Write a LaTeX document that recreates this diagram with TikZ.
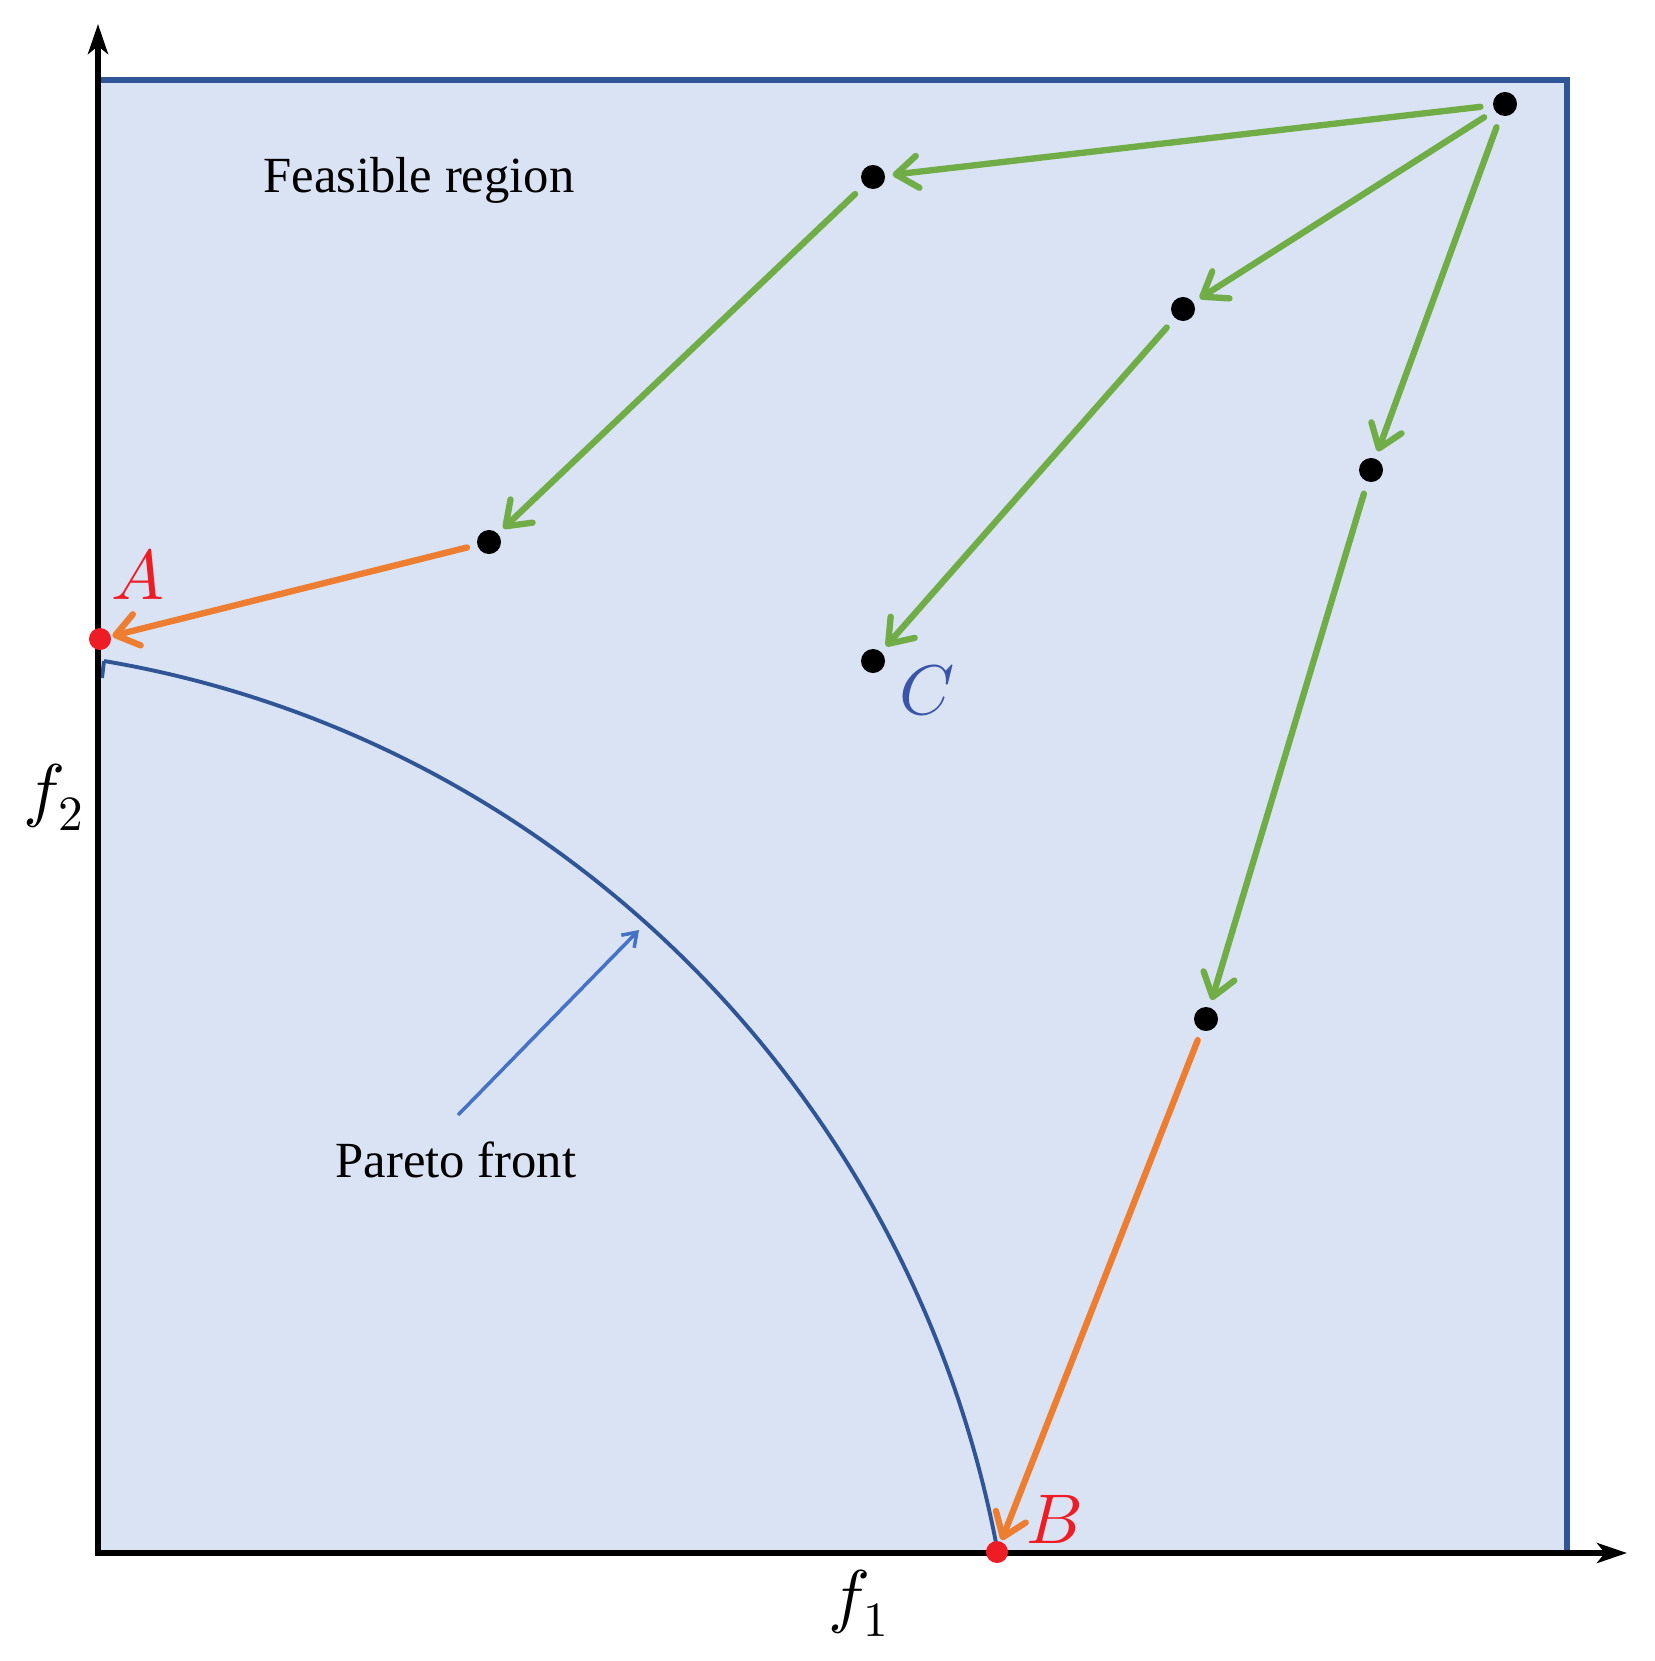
\documentclass[tikz,border=0pt]{standalone}
\usepackage{fontspec}
\setmainfont{Liberation Serif}
\usepackage{unicode-math}
\setmathfont{Latin Modern Math}
\usetikzlibrary{arrows.meta}
\definecolor{regfill}{HTML}{DAE3F3}
\definecolor{regline}{HTML}{2F5597}
\definecolor{grn}{HTML}{70AD47}
\definecolor{org}{HTML}{ED7D31}
\definecolor{redpt}{HTML}{EE1C25}
\definecolor{blu}{HTML}{4472C4}
\definecolor{clab}{HTML}{3A55A8}
\tikzset{
  dot/.style={circle,fill=black,inner sep=0pt,minimum size=0.24cm},
  reddot/.style={circle,fill=redpt,inner sep=0pt,minimum size=0.22cm},
  axis/.style={line width=1.9pt,-{Stealth[length=0.3cm,width=0.2cm,inset=0.08cm]}},
  garrow/.style={grn,line width=1.8pt,line cap=round,-{Straight Barb[length=0.22cm,width=0.32cm,line width=1.8pt,round]},shorten <=0.12cm,shorten >=0.07cm},
  oarrow/.style={org,line width=1.8pt,line cap=round,-{Straight Barb[length=0.22cm,width=0.32cm,line width=1.8pt,round]},shorten <=0.1cm,shorten >=0.01cm},
  txt/.style={font=\fontsize{14.4}{17}\selectfont,inner sep=0pt},
  mlab/.style={font=\fontsize{20}{24}\selectfont,inner sep=0pt}
}
\begin{document}
\begin{tikzpicture}[x=0.01cm,y=-0.01cm]
\useasboundingbox (0,0) rectangle (1654,1661);
% feasible region
\fill[regfill] (100,80) rectangle (1567,1553);
\draw[regline,line width=1.9pt] (98,80) -- (1567,80) -- (1567,1553) -- (98,1553);
% Pareto front
\coordinate (pfA) at (104,661);
\coordinate (pfB) at (997,1548);
\draw[regline,line width=1.1pt] (102,678) -- (pfA);
\draw[regline,line width=1.1pt] (pfA) .. controls (554,737) and (910,1090) .. (pfB);
% axes
\coordinate (ytip) at (98,24);
\coordinate (xtip) at (1627,1553);
\draw[axis] (98,1556) -- (ytip);
\draw[axis] (95,1553) -- (xtip);
% points
\node[dot] (p0) at (1505,104) {};
\node[dot] (p1) at (873,177) {};
\node[dot] (p2) at (1183,309) {};
\node[dot] (p3) at (1371,470) {};
\node[dot] (p4) at (489,542) {};
\node[dot] (pc) at (873,661) {};
\node[dot] (p5) at (1206,1019) {};
\node[reddot] (pa) at (100,639) {};
\node[reddot] (pb) at (997,1552) {};
% arrows
\draw[garrow] (p0) -- (p1);
\draw[garrow] (p0) -- (p2);
\draw[garrow] (p0) -- (p3);
\draw[garrow] (p1) -- (p4);
\draw[garrow] (p2) -- (pc);
\draw[garrow] (p3) -- (p5);
\draw[oarrow] (p4) -- (pa);
\draw[oarrow] (p5) -- (pb);
% labels
\node[txt] (feas) at (419,180) {Feasible region};
\node[txt] (par) at (456,1160) {Pareto front};
\coordinate (parTail) at (458,1115);
\coordinate (parHead) at (639,930);
\draw[blu,line width=1pt,-{Straight Barb[length=0.13cm,width=0.18cm]}] (parTail) -- (parHead);
\node[mlab,text=redpt] (la) at (138,574) {$A$};
\node[mlab,text=redpt] (lb) at (1054,1519) {$B$};
\node[mlab,text=clab] (lc) at (927,690) {$C$};
\node[mlab] (lf1) at (859,1603) {$f_1$};
\node[mlab] (lf2) at (54,797) {$f_2$};
\end{tikzpicture}
\end{document}
